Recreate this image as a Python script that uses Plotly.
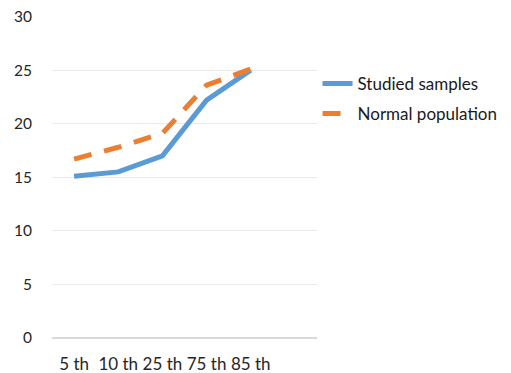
import plotly.graph_objects as go

categories = ["5 th", "10 th", "25 th", "75 th", "85 th"]
studied_samples = [15.1, 15.5, 17.0, 22.2, 25.0]
normal_population = [16.7, 17.8, 19.1, 23.6, 25.1]
y_ticks = [0, 5, 10, 15, 20, 25, 30]

xpos = list(range(len(categories)))

fig = go.Figure()
fig.add_trace(go.Scatter(
    x=xpos, y=studied_samples, mode="lines", name="Studied samples",
    line=dict(color="#5B9BD5", width=5), legendgroup="a",
))
fig.add_trace(go.Scatter(
    x=xpos, y=normal_population, mode="lines", name="Normal population",
    line=dict(color="#ED7D31", width=5, dash="18px,13px"), legendgroup="b",
))

# page body has an 8px margin, so the figure is sized to fit the window
fig.update_layout(
    width=503, height=365,
    margin=dict(l=44, r=190, t=8, b=35),
    paper_bgcolor="white", plot_bgcolor="white",
    font=dict(family="Lato, Open Sans, sans-serif", size=17, color="#262626"),
    showlegend=True,
    legend=dict(x=1.002, y=0.845, xanchor="left", yanchor="top",
                traceorder="grouped", tracegroupgap=5,
                font=dict(size=17, color="#1a1a1a"), bgcolor="rgba(0,0,0,0)"),
    xaxis=dict(range=[-0.5, 5.5], tickmode="array", tickvals=xpos, ticktext=categories,
               showgrid=False, zeroline=False, showline=False, ticks="",
               ticklabelstandoff=14, automargin=False, fixedrange=True),
    yaxis=dict(range=[0, 30.05], tickmode="array", tickvals=y_ticks,
               tickfont=dict(size=15.5),
               showgrid=True, gridcolor="#EBEBEB", gridwidth=1,
               zeroline=True, zerolinecolor="#D9D9D9", zerolinewidth=1.5,
               showline=False, ticks="", ticklabelstandoff=19,
               ticklabeloverflow="allow", automargin=False, fixedrange=True),
)

fig.write_html("out.html", config={"displayModeBar": False})
